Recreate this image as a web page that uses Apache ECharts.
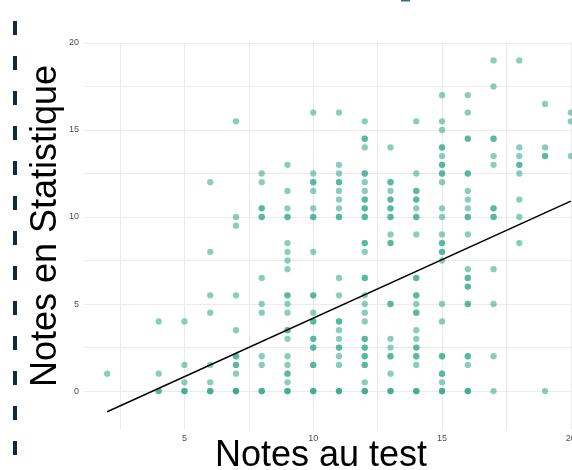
<!DOCTYPE html>
<html>
<head>
<meta charset="utf-8">
<script src="https://cdn.jsdelivr.net/npm/echarts@6/dist/echarts.min.js"></script>
<style>
  html, body { margin: 0; padding: 0; background: #fff; }
  #chart { width: 572px; height: 470px; }
</style>
</head>
<body>
<div id="chart"></div>
<script>
// Notes au test (x) and, for each, the list of Notes en Statistique (y); repeated values = overlapping students
const notesTest = [2, 4, 5, 6, 7, 8, 9, 10, 11, 12, 13, 14, 15, 16, 17, 18, 19, 20];
const notesStat = [
  [1],
  [0, 0, 1, 4],
  [0, 0, 0, 0.5, 1.5, 4],
  [0, 0, 0, 0.5, 1.5, 4.5, 5.5, 8, 12],
  [0, 0, 0, 0, 1, 1.5, 1.5, 2, 2, 3.5, 5.5, 9.5, 10, 15.5],
  [0, 0, 0, 1.5, 2, 4.5, 5, 6.5, 10, 10, 10.5, 10.5, 12, 12.5],
  [0, 0, 0, 0.5, 1, 1, 1.5, 2, 3, 3.5, 3.5, 4.5, 5, 5.5, 5.5, 7, 7.5, 8, 8.5, 10, 10, 10.5, 11.5, 13],
  [0, 0, 0, 1.5, 1.5, 2.5, 2.5, 3, 3, 4, 4, 4.5, 5.5, 5.5, 8, 10, 10, 10.5, 11.5, 12, 12, 12.5, 16],
  [0, 0, 0, 1.5, 2, 2.5, 2.5, 3, 3.5, 4, 4, 5.5, 6.5, 10, 10, 10.5, 11, 11.5, 12, 12, 12.5, 13, 16],
  [0, 0, 0, 0.5, 1.5, 1.5, 2, 2, 2.5, 2.5, 3, 3, 4, 4.5, 5, 5.5, 6.5, 6.5, 8, 8.5, 8.5, 10, 10, 10.5, 10.5, 11, 11, 11.5, 12, 12.5, 12.5, 14, 14.5, 14.5, 15.5],
  [0, 0, 0, 1, 2, 2, 2.5, 3, 5, 5, 8.5, 8.5, 9, 10, 10, 10.5, 10.5, 11, 11, 11.5, 12, 12, 14],
  [0, 0, 0, 1.5, 2, 2, 2.5, 2.5, 3, 3.5, 4.5, 4.5, 5, 5.5, 5.5, 6.5, 6.5, 9, 10, 10, 10.5, 11, 11, 11.5, 11.5, 12.5, 15.5],
  [0, 0, 0, 0.5, 1, 1, 2, 2, 4, 5, 7.5, 8, 8, 8.5, 8.5, 9, 10, 10.5, 12, 12.5, 12.5, 13, 13, 13.5, 14, 14, 15, 15.5, 17],
  [0, 0, 0, 1.5, 2, 2, 5, 5, 6, 6, 6.5, 6.5, 7, 9, 10, 10, 10.5, 11, 11.5, 12.5, 12.5, 14.5, 14.5, 16, 17],
  [0, 2, 5, 7, 10, 10, 10.5, 10.5, 13, 13.5, 14.5, 14.5, 17.5, 19],
  [8.5, 10, 11, 12.5, 13, 13, 13.5, 14, 19],
  [0, 13.5, 13.5, 14, 16.5],
  [13.5, 15.5, 16]
];
// fitted regression line (endpoints)
const lineX = [2, 20];
const lineY = [-1.19, 10.91];
// tick values
const gridTicks = [0, 2.5, 5, 7.5, 10, 12.5, 15, 17.5, 20];
const xLabels = [5, 10, 15, 20];
const yLabels = [0, 5, 10, 15, 20];

const points = [];
notesTest.forEach((x, i) => notesStat[i].forEach(y => points.push([x, y])));
const lineData = lineX.map((x, i) => [x, lineY[i]]);

const chart = echarts.init(document.getElementById('chart'), null, { renderer: 'canvas' });
const labelStyle = { fontSize: 9, color: '#4d4d4d', fontFamily: 'Liberation Sans, Arial, sans-serif' };
const titleFont = 'Liberation Sans, Arial, sans-serif';

chart.setOption({
  animation: false,
  backgroundColor: '#ffffff',
  grid: { left: 84, right: -22, top: 42.8, bottom: 40.5, outerBoundsMode: 'none' },
  xAxis: {
    type: 'value', min: 1.1, max: 20.9,
    axisLine: { show: false },
    axisTick: { show: false, customValues: gridTicks },
    axisLabel: Object.assign({ customValues: xLabels, margin: 5 }, labelStyle),
    splitLine: { show: true, lineStyle: { color: '#ebebeb', width: 1 } }
  },
  yAxis: {
    type: 'value', min: -2.21, max: 20.01,
    axisLine: { show: false },
    axisTick: { show: false, customValues: gridTicks },
    axisLabel: Object.assign({ customValues: yLabels, margin: 5 }, labelStyle),
    splitLine: { show: true, lineStyle: { color: '#ebebeb', width: 1 } }
  },
  series: [
    {
      type: 'scatter',
      data: points,
      symbolSize: 6.3,
      itemStyle: { color: '#35a88c', opacity: 0.58 },
      silent: true,
      z: 2
    },
    {
      type: 'line',
      data: lineData,
      showSymbol: false,
      symbol: 'none',
      lineStyle: { color: '#000000', width: 1.5 },
      silent: true,
      z: 3
    }
  ],
  graphic: [
    {
      type: 'line',
      shape: { x1: 15, y1: -14, x2: 15, y2: 480 },
      style: { stroke: '#0f2b3c', lineWidth: 4, lineDash: [14, 21] },
      silent: true
    },
    {
      type: 'rect',
      shape: { x: 401, y: 0, width: 9, height: 1.5 },
      style: { fill: '#2f6f8a' },
      silent: true
    },
    {
      type: 'text',
      x: 46, y: 226, rotation: Math.PI / 2,
      style: { text: 'Notes en Statistique', fontSize: 36, fontFamily: titleFont, fill: '#000', textAlign: 'center', textVerticalAlign: 'middle' },
      silent: true
    },
    {
      type: 'text',
      x: 321, y: 456,
      style: { text: 'Notes au test', fontSize: 36, fontFamily: titleFont, fill: '#000', textAlign: 'center', textVerticalAlign: 'middle' },
      silent: true
    }
  ]
});
</script>
</body>
</html>
